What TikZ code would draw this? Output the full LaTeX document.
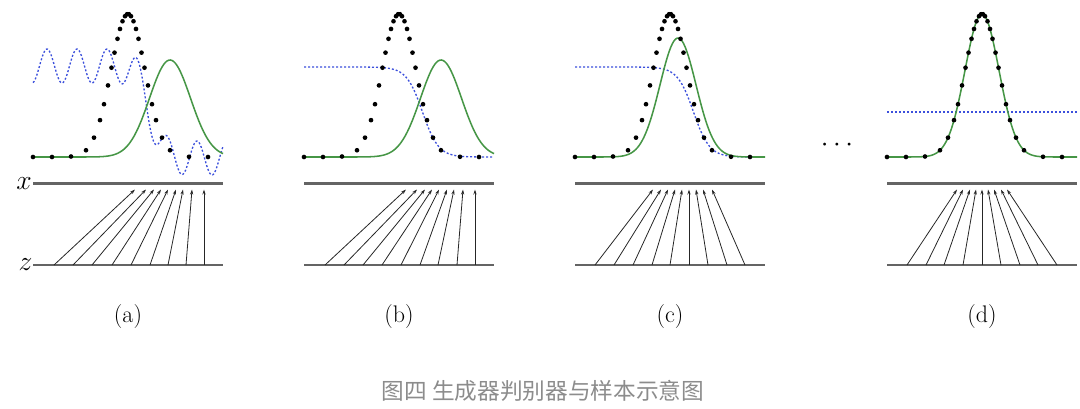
\documentclass[tikz,border=0pt]{standalone}
\usepackage{fontspec}
\newfontfamily\cjk{Noto Sans CJK SC}
\usetikzlibrary{arrows.meta}
\definecolor{gcurve}{RGB}{70,150,70}
\definecolor{bcurve}{RGB}{60,80,220}
\definecolor{axisgray}{RGB}{100,100,100}
\definecolor{capgray}{RGB}{140,140,140}
\tikzset{
  axisline/.style={draw=axisgray, line width=1.6pt},
  mapline/.style={draw=black!85, line width=0.6pt, -{Stealth[length=3.8pt,width=2.4pt]}},
  gencurve/.style={draw=gcurve, line width=1.15pt},
  disccurve/.style={draw=bcurve, line width=1pt, dash pattern=on 1.5pt off 1.5pt},
  panellabel/.style={font=\fontsize{18}{21}\selectfont, inner sep=0pt},
  varlabel/.style={font=\fontsize{22}{26}\selectfont, inner sep=0pt},
}
\newcommand{\datadots}{%
  \foreach \d in {-95,-76,-57,-42,-34,-28,-24,-20,-16.5,-13.5,-10.5,-8,-5.5,-3,-1,1,3,5.5,8,10.5,13.5,16.5,20,24,28,34,42,61,80}
    \fill[black] ({95+\d},{157-143*exp(-min(0.5*(\d/17)*(\d/17),9))}) circle[radius=1.75pt];}
\newcommand{\axes}[1]{%
  \coordinate (#1xl) at (0,183.5); \coordinate (#1xr) at (190,183.5);
  \coordinate (#1zl) at (0,265); \coordinate (#1zr) at (190,265);
  \draw[axisline] (#1xl) -- (#1xr);
  \draw[axisline] (#1zl) -- (#1zr);}
\begin{document}
\begin{tikzpicture}[x=0.75pt,y=-0.75pt]
\useasboundingbox (0,0) rectangle (1080,408);

% labels x and z
\node[varlabel] (xlab) at (24,184) {$x$};
\node[varlabel] (zlab) at (25.5,265) {$z$};

% ---------- panel (a) ----------
\begin{scope}[shift={(33,0)}]
  \axes{a}
  \draw[disccurve] plot[domain=0:190, samples=220, smooth]
    (\x,{66+92/(1+exp(-max(min((\x-117)/6,9),-9)))-17*cos(12*(\x-14))});
  \draw[gencurve] plot[domain=0:190, samples=120, smooth]
    (\x,{157-97*exp(-min(0.5*((\x-137)/20.5)*((\x-137)/20.5),9))});
  \datadots
  \foreach \zs/\xt [count=\i] in {21/102,40/113,59/121,79/128,98/135,117/143,135/150,153/159,171/171}{
    \coordinate (az\i) at (\zs,265);
    \coordinate (ax\i) at (\xt,189.5);
    \draw[mapline] (az\i) -- (ax\i);}
  \node[panellabel] (alab) at (95,317) {(a)};
\end{scope}

% ---------- panel (b) ----------
\begin{scope}[shift={(304,0)}]
  \axes{b}
  \draw[disccurve] plot[domain=0:190, samples=120, smooth]
    (\x,{67+90/(1+exp(-max(min((\x-118.5)/8,9),-9)))});
  \draw[gencurve] plot[domain=0:190, samples=120, smooth]
    (\x,{157-97*exp(-min(0.5*((\x-137)/20.5)*((\x-137)/20.5),9))});
  \datadots
  \foreach \zs/\xt [count=\i] in {21/102,40/113,59/121,78/128,97/135,116/143,134/150,153/159,171/171}{
    \coordinate (bz\i) at (\zs,265);
    \coordinate (bx\i) at (\xt,189.5);
    \draw[mapline] (bz\i) -- (bx\i);}
  \node[panellabel] (blab) at (95,317) {(b)};
\end{scope}

% ---------- panel (c) ----------
\begin{scope}[shift={(575,0)}]
  \axes{c}
  \draw[disccurve] plot[domain=0:190, samples=120, smooth]
    (\x,{67+90/(1+exp(-max(min((\x-118.5)/8,9),-9)))});
  \draw[gencurve] plot[domain=0:190, samples=120, smooth]
    (\x,{157-119*exp(-min(0.5*((\x-103)/18)*((\x-103)/18),9))});
  \datadots
  \foreach \zs/\xt [count=\i] in {20/78,39/86,58/93,77/100,95/107,114/114,133/121,152/128,170/137}{
    \coordinate (cz\i) at (\zs,265);
    \coordinate (cx\i) at (\xt,189.5);
    \draw[mapline] (cz\i) -- (cx\i);}
  \node[panellabel] (clab) at (95,317) {(c)};
\end{scope}

% ellipsis
\node[varlabel, anchor=base] (dots) at (837,151) {$\cdots$};

% ---------- panel (d) ----------
\begin{scope}[shift={(887,0)}]
  \axes{d}
  \coordinate (dbl) at (0,112); \coordinate (dbr) at (190,112);
  \draw[disccurve] (dbl) -- (dbr);
  \draw[gencurve] plot[domain=0:190, samples=120, smooth]
    (\x,{157-143*exp(-min(0.5*((\x-95)/17)*((\x-95)/17),9))});
  \datadots
  \foreach \zs/\xt [count=\i] in {20/70,39/76,57/83,76/89,95/95,114/101,133/107,151/114,170/120}{
    \coordinate (dz\i) at (\zs,265);
    \coordinate (dx\i) at (\xt,189.5);
    \draw[mapline] (dz\i) -- (dx\i);}
  \node[panellabel] (dlab) at (95,317) {(d)};
\end{scope}

% caption
\node[font=\cjk\fontsize{17}{20}\selectfont, text=capgray, inner sep=0pt] (cap) at (543,391) {图四 生成器判别器与样本示意图};
\end{tikzpicture}
\end{document}
